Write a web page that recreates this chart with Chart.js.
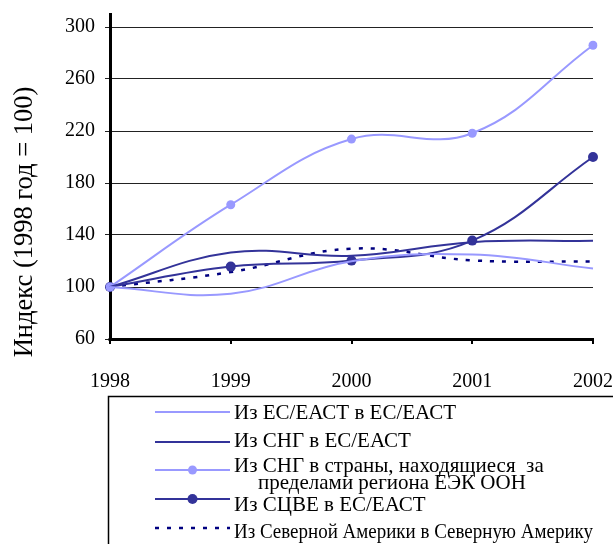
<!DOCTYPE html>
<html>
<head>
<meta charset="utf-8">
<script src="https://cdn.jsdelivr.net/npm/chart.js@4/dist/chart.umd.min.js"></script>
<style>
  html, body { margin: 0; padding: 0; background: #fff; }
  #wrap { width: 613px; height: 544px; }
</style>
</head>
<body>
<div id="wrap"><canvas id="chart" width="613" height="544"></canvas></div>
<script>
const years = ["1998", "1999", "2000", "2001", "2002"];
const euToEu = [100, 94.8, 119.8, 125, 114.2];       // Из ЕС/ЕАСТ в ЕС/ЕАСТ
const cisToEu = [100, 126.5, 124, 134.5, 135.5];     // Из СНГ в ЕС/ЕАСТ
const cisOutside = [100, 163.3, 213.8, 218.3, 286];  // Из СНГ за пределы региона
const ceeToEu = [100, 115.7, 120.3, 135.7, 200];     // Из СЦВЕ в ЕС/ЕАСТ
const naToNa = [100, 111.5, 129.5, 120.5, 119.5];    // Из Северной Америки
const yTicks = [60, 100, 140, 180, 220, 260, 300];
const yMin = 60, yMax = 310;
const axisTitle = "Индекс (1998 год = 100)";

const LIGHT = "#9999ff";
const DARK = "#333399";
const NAVY = "#000080";
const FONT = "'Liberation Serif', 'Times New Roman', serif";

// legend rows: line sample y, text lines with their x, y (and max width)
const legendRows = [
  { y: 412, text: [[234, 413, "Из ЕС/ЕАСТ в ЕС/ЕАСТ"]] },
  { y: 442, text: [[234, 441, "Из СНГ в ЕС/ЕАСТ"]] },
  { y: 470, text: [[234, 466, "Из СНГ в страны, находящиеся  за"], [258, 483, "пределами региона ЕЭК ООН"]] },
  { y: 499, text: [[234, 505, "Из СЦВЕ в ЕС/ЕАСТ"]] },
  { y: 528, text: [[234, 532, "Из Северной Америки в Северную Америку", 359]] }
];

const boxLegend = {
  id: "boxLegend",
  afterDraw(chart) {
    const { ctx, chartArea } = chart;
    ctx.save();
    ctx.setLineDash([]);

    // thick x axis line along the bottom of the plot
    ctx.fillStyle = "#000";
    ctx.fillRect(chartArea.left - 1.5, chartArea.bottom - 1, chartArea.right - chartArea.left + 2.5, 3);

    // legend frame, runs off the right and bottom edge
    ctx.strokeStyle = "#000";
    ctx.lineWidth = 1.5;
    ctx.strokeRect(108.5, 396.5, 620, 200);

    chart.data.datasets.forEach((ds, i) => {
      const row = legendRows[i];
      ctx.save();
      ctx.strokeStyle = ds.borderColor;
      ctx.lineWidth = ds.borderWidth;
      ctx.setLineDash(ds.borderDash || []);
      ctx.beginPath();
      ctx.moveTo(155, row.y);
      ctx.lineTo(230, row.y);
      ctx.stroke();
      if (ds.pointRadius > 0) {
        ctx.fillStyle = ds.pointBackgroundColor;
        ctx.beginPath();
        ctx.arc(192.5, row.y, ds.pointRadius, 0, 2 * Math.PI);
        ctx.fill();
      }
      ctx.restore();

      ctx.fillStyle = "#000";
      ctx.font = "21px " + FONT;
      ctx.textBaseline = "middle";
      row.text.forEach(t => {
        if (t[3]) ctx.fillText(t[2], t[0], t[1], t[3]);
        else ctx.fillText(t[2], t[0], t[1]);
      });
    });

    // rotated y axis title
    ctx.translate(25, 222);
    ctx.rotate(-Math.PI / 2);
    ctx.font = "26.5px " + FONT;
    ctx.textAlign = "center";
    ctx.textBaseline = "middle";
    ctx.fillStyle = "#000";
    ctx.fillText(axisTitle, 0, 0);
    ctx.restore();
  }
};

function noPad(scale) {
  scale.paddingTop = 0;
  scale.paddingBottom = 0;
  scale.paddingLeft = 0;
  scale.paddingRight = 0;
}

new Chart(document.getElementById("chart"), {
  type: "line",
  data: {
    labels: years,
    datasets: [
      { label: "Из ЕС/ЕАСТ в ЕС/ЕАСТ", data: euToEu, borderColor: LIGHT, borderWidth: 2, pointRadius: 0 },
      { label: "Из СНГ в ЕС/ЕАСТ", data: cisToEu, borderColor: DARK, borderWidth: 2, pointRadius: 0 },
      { label: "Из СНГ в страны, находящиеся за пределами региона ЕЭК ООН", data: cisOutside, borderColor: LIGHT, borderWidth: 2,
        pointRadius: 4.5, pointBackgroundColor: LIGHT, pointBorderColor: LIGHT, pointBorderWidth: 0 },
      { label: "Из СЦВЕ в ЕС/ЕАСТ", data: ceeToEu, borderColor: DARK, borderWidth: 2,
        pointRadius: 5, pointBackgroundColor: DARK, pointBorderColor: DARK, pointBorderWidth: 0 },
      { label: "Из Северной Америки в Северную Америку", data: naToNa, borderColor: NAVY, borderWidth: 2.5,
        borderDash: [4, 8], pointRadius: 0 }
    ]
  },
  options: {
    responsive: false,
    animation: false,
    events: [],
    layout: { padding: { left: 0, right: 20, top: 14, bottom: 155 } },
    elements: { line: { tension: 0.4, fill: false, borderCapStyle: "butt" } },
    plugins: {
      legend: { display: false },
      tooltip: { enabled: false },
      title: { display: false }
    },
    scales: {
      x: {
        offset: false,
        grid: { drawOnChartArea: false, drawTicks: true, tickLength: 5, color: "#000", lineWidth: 2 },
        border: { color: "#000", width: 3 },
        ticks: { color: "#000", font: { family: FONT, size: 20 }, padding: 26, maxRotation: 0, autoSkip: false },
        afterFit(s) { s.height = 50; noPad(s); }
      },
      y: {
        min: yMin,
        max: yMax,
        grid: { color: "#222", lineWidth: 1, drawTicks: true, tickLength: 5 },
        border: { color: "#000", width: 3 },
        ticks: { color: "#000", font: { family: FONT, size: 20 }, padding: 10 },
        afterBuildTicks(s) { s.ticks = yTicks.map(v => ({ value: v })); },
        afterFit(s) { s.width = 110; noPad(s); }
      }
    }
  },
  plugins: [boxLegend]
});
</script>
</body>
</html>
